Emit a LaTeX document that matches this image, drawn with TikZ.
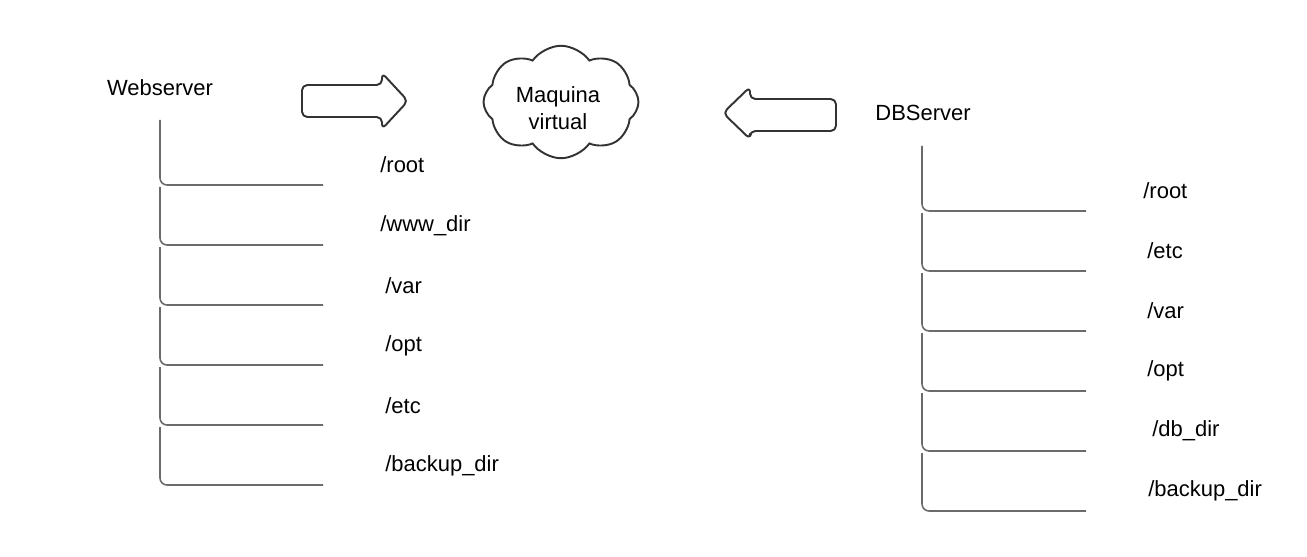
\documentclass[tikz,border=0pt]{standalone}
\usepackage{fontspec}
\setmainfont{Liberation Sans}
\usetikzlibrary{positioning,shapes.symbols}
\definecolor{linex}{HTML}{333333}
\definecolor{treex}{HTML}{6B6B6B}
\tikzset{
  br/.style={treex,line width=0.9pt,rounded corners=4pt},
  fat/.style={linex,line width=1.1pt,rounded corners=3pt,line join=round},
  lbl/.style={font=\fontsize{12.5}{15.3}\selectfont,inner sep=0pt},
  dir/.style={lbl,anchor=west}
}
\begin{document}
\begin{tikzpicture}[x=0.02cm,y=-0.02cm]
\useasboundingbox (0,0) rectangle (1307,557);
\node[lbl] (web) at (160,88) {Webserver};
\node[lbl] (db) at (923,113) {DBServer};
\node[cloud,cloud puffs=8,cloud puff arc=110,aspect=1.35,draw=linex,line width=1.1pt,minimum width=3.1cm,minimum height=2.25cm] (vm) at (561,102) {};
\node[lbl,align=center] (vmt) at (558,108) {Maquina\\virtual};
\draw[fat] (302,85) -- (382,85) -- (382,73) -- (408,101) -- (382,129) -- (382,117) -- (302,117) -- cycle;
\draw[fat] (836,99) -- (750,99) -- (750,87) -- (723,113) -- (750,139) -- (750,131) -- (836,131) -- cycle;
\foreach \y [remember=\y as \py (initially 118)] in {185,245,305,365,425,485}
  \draw[br] (160,\py+2) -- (160,\y) -- (323,\y);
\foreach \y [remember=\y as \py (initially 144)] in {211,271,331,391,451,511}
  \draw[br] (922,\py+2) -- (922,\y) -- (1086,\y);
\node[dir] (w1) at (380,165) {/root};
\node[dir] (w2) at (380,226) {/www\_dir};
\node[dir] (w3) at (385,286) {/var};
\node[dir] (w4) at (385,346) {/opt};
\node[dir] (w5) at (385,406) {/etc};
\node[dir] (w6) at (385,466) {/backup\_dir};
\node[dir] (d1) at (1143,191) {/root};
\node[dir] (d2) at (1147,251) {/etc};
\node[dir] (d3) at (1147,311) {/var};
\node[dir] (d4) at (1147,371) {/opt};
\node[dir] (d5) at (1152,431) {/db\_dir};
\node[dir] (d6) at (1148,491) {/backup\_dir};
\end{tikzpicture}
\end{document}
